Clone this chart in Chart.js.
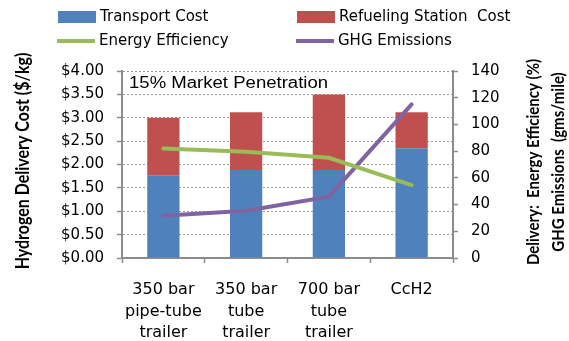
<!DOCTYPE html>
<html>
<head>
<meta charset="utf-8">
<script src="https://cdn.jsdelivr.net/npm/chart.js@4"></script>
<style>
  html, body { margin: 0; padding: 0; background: #fff; }
  #wrap { width: 569px; height: 341px; }
</style>
</head>
<body>
<div id="wrap"><canvas id="myChart" width="569" height="341"></canvas></div>
<script>
const categories = [['350 bar', 'pipe-tube', 'trailer'], ['350 bar', 'tube', 'trailer'], ['700 bar', 'tube', 'trailer'], 'CcH2'];
const transportCost = [1.77, 1.88, 1.88, 2.35];
const refuelingCost = [1.23, 1.24, 1.62, 0.77];
const energyEfficiency = [82, 79.6, 75, 54.6];
const ghgEmissions = [31.7, 35.4, 45.9, 115];
const costTicks = [0, 0.5, 1, 1.5, 2, 2.5, 3, 3.5, 4];
const pctTicks = [0, 20, 40, 60, 80, 100, 120, 140];

const axisGray = '#8c8c8c';
const tickFont = { family: 'DejaVu Sans', size: 15 };
const stretch = 1.16;

// vertical text, bottom-to-top, centred on (x, y)
function upText(c, lines, x, y, gap) {
    c.save();
    c.translate(x, y);
    c.rotate(-Math.PI / 2);
    c.scale(1, stretch);
    lines.forEach((t, i) => c.fillText(t, 0, i * gap / stretch));
    c.restore();
}

// legend, note and axis titles are painted straight onto the canvas
const extras = {
    id: 'extras',
    afterDraw(chart) {
        const c = chart.ctx;
        const ds = chart.data.datasets;
        c.save();
        c.fillStyle = '#000';
        c.textBaseline = 'middle';
        c.textAlign = 'left';
        c.font = '15px "DejaVu Sans"';

        const rows = [
            { x: 58, y: 17, d: ds[0] }, { x: 297, y: 17, d: ds[1] },
            { x: 57, y: 41, d: ds[2] }, { x: 296, y: 41, d: ds[3] }
        ];
        rows.forEach(r => {
            if (r.d.type === 'line') {
                c.strokeStyle = r.d.borderColor;
                c.lineWidth = 4;
                c.beginPath();
                c.moveTo(r.x, r.y);
                c.lineTo(r.x + 38, r.y);
                c.stroke();
            } else {
                c.fillStyle = r.d.backgroundColor;
                c.fillRect(r.x, r.y - 6, 38, 12);
            }
            c.fillStyle = '#000';
            c.fillText(r.d.label, r.x + 42, r.y);
        });

        c.save();
        c.font = '16px "Liberation Sans", Arial, sans-serif';
        c.textBaseline = 'alphabetic';
        c.translate(129, 88);
        c.scale(stretch, 1);
        c.fillText('15% Market Penetration', 0, 0);
        c.restore();

        c.font = 'bold 16px Lato';
        c.textAlign = 'center';
        c.textBaseline = 'middle';
        upText(c, ['Hydrogen Delivery Cost ($/kg)'], 23, 161, 0);
        c.font = 'bold 15px Lato';
        upText(c, ['Delivery:  Energy Efficiency (%)', 'GHG Emissions  (gms/mile)'], 533, 162, 25);
        c.restore();
    }
};

const ctx = document.getElementById('myChart').getContext('2d');
const myChart = new Chart(ctx, {
    type: 'bar',
    data: {
        labels: categories,
        datasets: [{
            label: 'Transport Cost',
            data: transportCost,
            backgroundColor: '#4F81BD',
            yAxisID: 'y',
            order: 1
        }, {
            label: 'Refueling Station  Cost',
            data: refuelingCost,
            backgroundColor: '#C0504D',
            yAxisID: 'y',
            order: 1
        }, {
            type: 'line',
            label: 'Energy Efficiency',
            data: energyEfficiency,
            borderColor: '#9BBB59',
            borderWidth: 4,
            borderCapStyle: 'round',
            pointRadius: 0,
            yAxisID: 'y1',
            order: 0
        }, {
            type: 'line',
            label: 'GHG Emissions',
            data: ghgEmissions,
            borderColor: '#8064A2',
            borderWidth: 4,
            borderCapStyle: 'round',
            pointRadius: 0,
            yAxisID: 'y1',
            order: 0
        }]
    },
    options: {
        responsive: false,
        animation: false,
        datasets: {
            bar: { barPercentage: 0.39, categoryPercentage: 1 }
        },
        layout: { padding: { top: 71, left: 0, right: 0, bottom: 0 } },
        scales: {
            x: {
                stacked: true,
                grid: {
                    drawOnChartArea: false,
                    tickLength: 5,
                    tickColor: axisGray,
                    tickWidth: 1.5
                },
                border: { color: axisGray, width: 2 },
                ticks: {
                    color: '#000',
                    padding: 16,
                    maxRotation: 0,
                    font: { family: 'DejaVu Sans', size: 16, lineHeight: 1.35 }
                },
                afterFit: s => { s.height = 83; }
            },
            y: {
                stacked: true,
                min: 0,
                max: 4,
                afterBuildTicks: s => { s.ticks = costTicks.map(v => ({ value: v })); },
                ticks: {
                    color: '#000',
                    padding: 13,
                    font: tickFont,
                    callback: v => '$' + v.toFixed(2)
                },
                grid: {
                    color: '#9a9a9a',
                    lineWidth: 1,
                    tickLength: 5,
                    tickColor: axisGray,
                    tickWidth: 1.5,
                    tickBorderDash: []
                },
                border: { color: axisGray, width: 2, dash: [2, 2] },
                afterFit: s => { s.width = 122; }
            },
            y1: {
                position: 'right',
                min: 0,
                max: 140,
                afterBuildTicks: s => { s.ticks = pctTicks.map(v => ({ value: v })); },
                ticks: {
                    color: '#000',
                    padding: 13,
                    font: tickFont
                },
                grid: {
                    drawOnChartArea: false,
                    tickLength: 5,
                    tickColor: axisGray,
                    tickWidth: 1.5
                },
                border: { color: axisGray, width: 2 },
                afterFit: s => { s.width = 116; }
            }
        },
        plugins: {
            legend: { display: false },
            tooltip: { enabled: false }
        }
    },
    plugins: [extras]
});
</script>
</body>
</html>
